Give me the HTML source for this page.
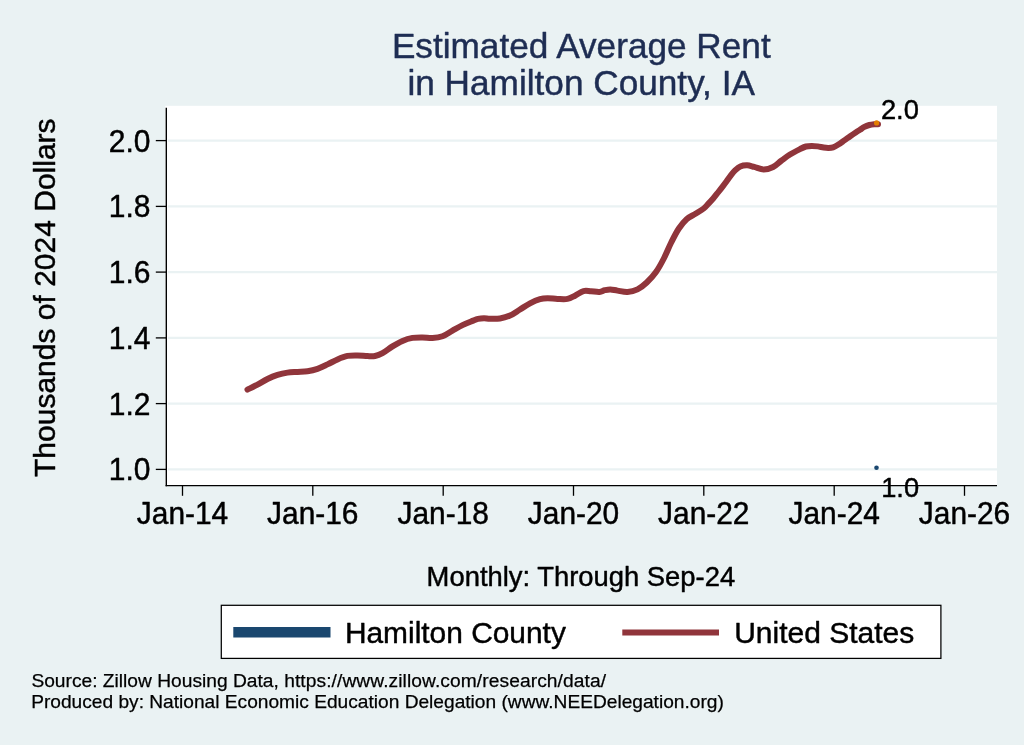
<!DOCTYPE html>
<html><head><meta charset="utf-8"><title>Estimated Average Rent in Hamilton County, IA</title>
<style>
html,body{margin:0;padding:0;background:#eaf2f3;}
body{width:1024px;height:745px;overflow:hidden;}
svg{display:block;}
text{font-family:"Liberation Sans",Arial,Helvetica,sans-serif;fill:#000;stroke:#000;stroke-width:0.45px;stroke-linejoin:round;}
.nv{fill:#1e2d53;stroke:#1e2d53;}
.ft{stroke-width:0.25px;}
</style></head><body>
<svg width="1024" height="745" viewBox="0 0 1024 745">
<rect x="0" y="0" width="1024" height="745" fill="#eaf2f3"/>
<rect x="165.2" y="105.8" width="831.8" height="380" fill="#ffffff"/>
<line x1="168" y1="140.6" x2="997" y2="140.6" stroke="#eaf2f3" stroke-width="2.3"/>
<line x1="168" y1="206.4" x2="997" y2="206.4" stroke="#eaf2f3" stroke-width="2.3"/>
<line x1="168" y1="272.1" x2="997" y2="272.1" stroke="#eaf2f3" stroke-width="2.3"/>
<line x1="168" y1="337.9" x2="997" y2="337.9" stroke="#eaf2f3" stroke-width="2.3"/>
<line x1="168" y1="403.6" x2="997" y2="403.6" stroke="#eaf2f3" stroke-width="2.3"/>
<line x1="168" y1="469.4" x2="997" y2="469.4" stroke="#eaf2f3" stroke-width="2.3"/>
<path d="M247.50,389.60 C249.17,388.78 254.17,386.47 257.50,384.70 C260.83,382.93 264.17,380.63 267.50,379.00 C270.83,377.37 274.17,375.97 277.50,374.90 C280.83,373.83 284.17,373.10 287.50,372.60 C290.83,372.10 294.17,372.13 297.50,371.90 C300.83,371.67 304.17,371.72 307.50,371.20 C310.83,370.68 314.17,369.93 317.50,368.80 C320.83,367.67 324.17,365.97 327.50,364.40 C330.83,362.83 334.17,360.82 337.50,359.40 C340.83,357.98 344.17,356.57 347.50,355.90 C350.83,355.23 354.17,355.37 357.50,355.40 C360.83,355.43 364.58,356.00 367.50,356.10 C370.42,356.20 372.50,356.48 375.00,356.00 C377.50,355.52 379.58,354.80 382.50,353.20 C385.42,351.60 389.17,348.45 392.50,346.40 C395.83,344.35 399.17,342.32 402.50,340.90 C405.83,339.48 409.17,338.48 412.50,337.90 C415.83,337.32 419.17,337.37 422.50,337.40 C425.83,337.43 429.17,338.28 432.50,338.10 C435.83,337.92 439.17,337.55 442.50,336.30 C445.83,335.05 449.17,332.47 452.50,330.60 C455.83,328.73 459.17,326.72 462.50,325.10 C465.83,323.48 469.92,321.93 472.50,320.90 C475.08,319.87 476.08,319.35 478.00,318.90 C479.92,318.45 482.00,318.22 484.00,318.20 C486.00,318.18 487.33,318.75 490.00,318.80 C492.67,318.85 496.67,319.03 500.00,318.50 C503.33,317.97 506.67,317.10 510.00,315.60 C513.33,314.10 516.67,311.53 520.00,309.50 C523.33,307.47 526.67,305.12 530.00,303.40 C533.33,301.68 537.08,300.07 540.00,299.20 C542.92,298.33 544.58,298.25 547.50,298.20 C550.42,298.15 554.17,298.78 557.50,298.90 C560.83,299.02 564.58,299.43 567.50,298.90 C570.42,298.37 572.33,297.00 575.00,295.70 C577.67,294.40 580.83,291.83 583.50,291.10 C586.17,290.37 588.33,291.17 591.00,291.30 C593.67,291.43 597.21,292.08 599.50,291.90 C601.79,291.72 602.93,290.62 604.75,290.20 C606.57,289.78 608.27,289.33 610.40,289.40 C612.52,289.47 614.65,290.17 617.50,290.60 C620.35,291.03 624.17,292.20 627.50,292.00 C630.83,291.80 634.29,290.98 637.50,289.40 C640.71,287.82 643.67,285.40 646.75,282.50 C649.83,279.60 653.17,275.96 656.00,272.00 C658.83,268.04 661.17,263.67 663.70,258.75 C666.23,253.83 668.70,247.50 671.20,242.50 C673.70,237.50 676.13,232.63 678.70,228.75 C681.27,224.87 683.80,221.69 686.60,219.20 C689.40,216.71 692.65,215.58 695.50,213.80 C698.35,212.02 701.58,210.15 703.70,208.50 C705.82,206.85 706.58,205.62 708.20,203.90 C709.82,202.18 711.77,200.10 713.40,198.20 C715.03,196.30 716.50,194.38 718.00,192.50 C719.50,190.62 720.97,188.77 722.40,186.90 C723.83,185.03 725.22,183.18 726.60,181.30 C727.98,179.42 729.25,177.45 730.70,175.60 C732.15,173.75 733.70,171.73 735.30,170.20 C736.90,168.67 738.32,167.22 740.30,166.40 C742.28,165.58 744.88,165.22 747.20,165.30 C749.52,165.38 751.45,166.20 754.20,166.90 C756.95,167.60 760.55,169.48 763.70,169.50 C766.85,169.52 770.18,168.46 773.10,167.00 C776.02,165.54 778.43,162.83 781.25,160.75 C784.07,158.67 786.88,156.44 790.00,154.50 C793.12,152.56 797.35,150.43 800.00,149.10 C802.65,147.77 803.93,147.03 805.90,146.50 C807.87,145.97 809.83,145.92 811.80,145.90 C813.77,145.88 815.73,146.13 817.70,146.40 C819.67,146.67 821.82,147.25 823.60,147.50 C825.38,147.75 826.82,147.93 828.40,147.90 C829.98,147.87 831.43,147.87 833.10,147.30 C834.77,146.73 836.53,145.65 838.40,144.50 C840.27,143.35 842.33,141.78 844.30,140.40 C846.27,139.02 848.23,137.57 850.20,136.20 C852.17,134.83 854.47,133.27 856.10,132.20 C857.73,131.13 858.62,130.68 860.00,129.80 C861.38,128.92 862.85,127.70 864.40,126.90 C865.95,126.10 867.67,125.45 869.30,125.00 C870.93,124.55 872.75,124.34 874.20,124.20 C875.65,124.06 877.37,124.16 878.00,124.15" fill="none" stroke="#90353b" stroke-width="6" stroke-linecap="round" stroke-linejoin="round"/>
<circle cx="876.6" cy="122.9" r="2.6" fill="#e37e00"/>
<circle cx="876.5" cy="467.8" r="2.3" fill="#1a476f"/>
<line x1="166.3" y1="107.8" x2="166.3" y2="486.2" stroke="#000" stroke-width="1.4"/>
<line x1="165.6" y1="485.6" x2="997" y2="485.6" stroke="#000" stroke-width="1.4"/>
<line x1="155.8" y1="140.6" x2="166.3" y2="140.6" stroke="#000" stroke-width="1.3"/>
<text class="yl" transform="translate(150.4,151.6) scale(1,1.035)" font-size="30" text-anchor="end">2.0</text>
<line x1="155.8" y1="206.4" x2="166.3" y2="206.4" stroke="#000" stroke-width="1.3"/>
<text class="yl" transform="translate(150.4,217.4) scale(1,1.035)" font-size="30" text-anchor="end">1.8</text>
<line x1="155.8" y1="272.1" x2="166.3" y2="272.1" stroke="#000" stroke-width="1.3"/>
<text class="yl" transform="translate(150.4,283.1) scale(1,1.035)" font-size="30" text-anchor="end">1.6</text>
<line x1="155.8" y1="337.9" x2="166.3" y2="337.9" stroke="#000" stroke-width="1.3"/>
<text class="yl" transform="translate(150.4,348.9) scale(1,1.035)" font-size="30" text-anchor="end">1.4</text>
<line x1="155.8" y1="403.6" x2="166.3" y2="403.6" stroke="#000" stroke-width="1.3"/>
<text class="yl" transform="translate(150.4,414.6) scale(1,1.035)" font-size="30" text-anchor="end">1.2</text>
<line x1="155.8" y1="469.4" x2="166.3" y2="469.4" stroke="#000" stroke-width="1.3"/>
<text class="yl" transform="translate(150.4,480.4) scale(1,1.035)" font-size="30" text-anchor="end">1.0</text>
<line x1="182.5" y1="485.6" x2="182.5" y2="495.8" stroke="#000" stroke-width="1.3"/>
<text class="xl" transform="translate(182.5,523.6) scale(1,1.035)" font-size="29.9" text-anchor="middle">Jan-14</text>
<line x1="312.8" y1="485.6" x2="312.8" y2="495.8" stroke="#000" stroke-width="1.3"/>
<text class="xl" transform="translate(312.8,523.6) scale(1,1.035)" font-size="29.9" text-anchor="middle">Jan-16</text>
<line x1="443.2" y1="485.6" x2="443.2" y2="495.8" stroke="#000" stroke-width="1.3"/>
<text class="xl" transform="translate(443.2,523.6) scale(1,1.035)" font-size="29.9" text-anchor="middle">Jan-18</text>
<line x1="573.5" y1="485.6" x2="573.5" y2="495.8" stroke="#000" stroke-width="1.3"/>
<text class="xl" transform="translate(573.5,523.6) scale(1,1.035)" font-size="29.9" text-anchor="middle">Jan-20</text>
<line x1="703.8" y1="485.6" x2="703.8" y2="495.8" stroke="#000" stroke-width="1.3"/>
<text class="xl" transform="translate(703.8,523.6) scale(1,1.035)" font-size="29.9" text-anchor="middle">Jan-22</text>
<line x1="834.2" y1="485.6" x2="834.2" y2="495.8" stroke="#000" stroke-width="1.3"/>
<text class="xl" transform="translate(834.2,523.6) scale(1,1.035)" font-size="29.9" text-anchor="middle">Jan-24</text>
<line x1="964.5" y1="485.6" x2="964.5" y2="495.8" stroke="#000" stroke-width="1.3"/>
<text class="xl" transform="translate(964.5,523.6) scale(1,1.035)" font-size="29.9" text-anchor="middle">Jan-26</text>
<text id="m2" x="880.9" y="118.7" font-size="27.3">2.0</text>
<text id="m1" x="881.2" y="496.7" font-size="27.3">1.0</text>
<text id="t1" x="581.3" y="58.4" font-size="35.2" text-anchor="middle" class="nv">Estimated Average Rent</text>
<text id="t2" x="581.2" y="94.6" font-size="35.2" text-anchor="middle" class="nv">in Hamilton County, IA</text>
<text id="yt" transform="translate(55.3,297.7) rotate(-90)" font-size="30" text-anchor="middle">Thousands of 2024 Dollars</text>
<text id="xt" x="580.9" y="585.7" font-size="27.4" text-anchor="middle">Monthly: Through Sep-24</text>
<rect x="221.3" y="605.3" width="719.6" height="53.1" fill="#fff" stroke="#000" stroke-width="1.25"/>
<line x1="233.3" y1="632.3" x2="330.5" y2="632.3" stroke="#1a476f" stroke-width="10.5"/>
<line x1="622.3" y1="632.5" x2="719" y2="632.5" stroke="#90353b" stroke-width="6.2"/>
<text id="l1" x="344.9" y="643.3" font-size="29.9">Hamilton County</text>
<text id="l2" x="734.2" y="643.3" font-size="30">United States</text>
<text id="f1" class="ft" x="31.4" y="687.4" font-size="19.2">Source: Zillow Housing Data, <tspan letter-spacing="0.085">https://www.zillow.com/research/data/</tspan></text>
<text id="f2" class="ft" x="31.2" y="708.2" font-size="19.15">Produced by: National Economic Education Delegation (www.NEEDelegation.org)</text>
</svg></body></html>
